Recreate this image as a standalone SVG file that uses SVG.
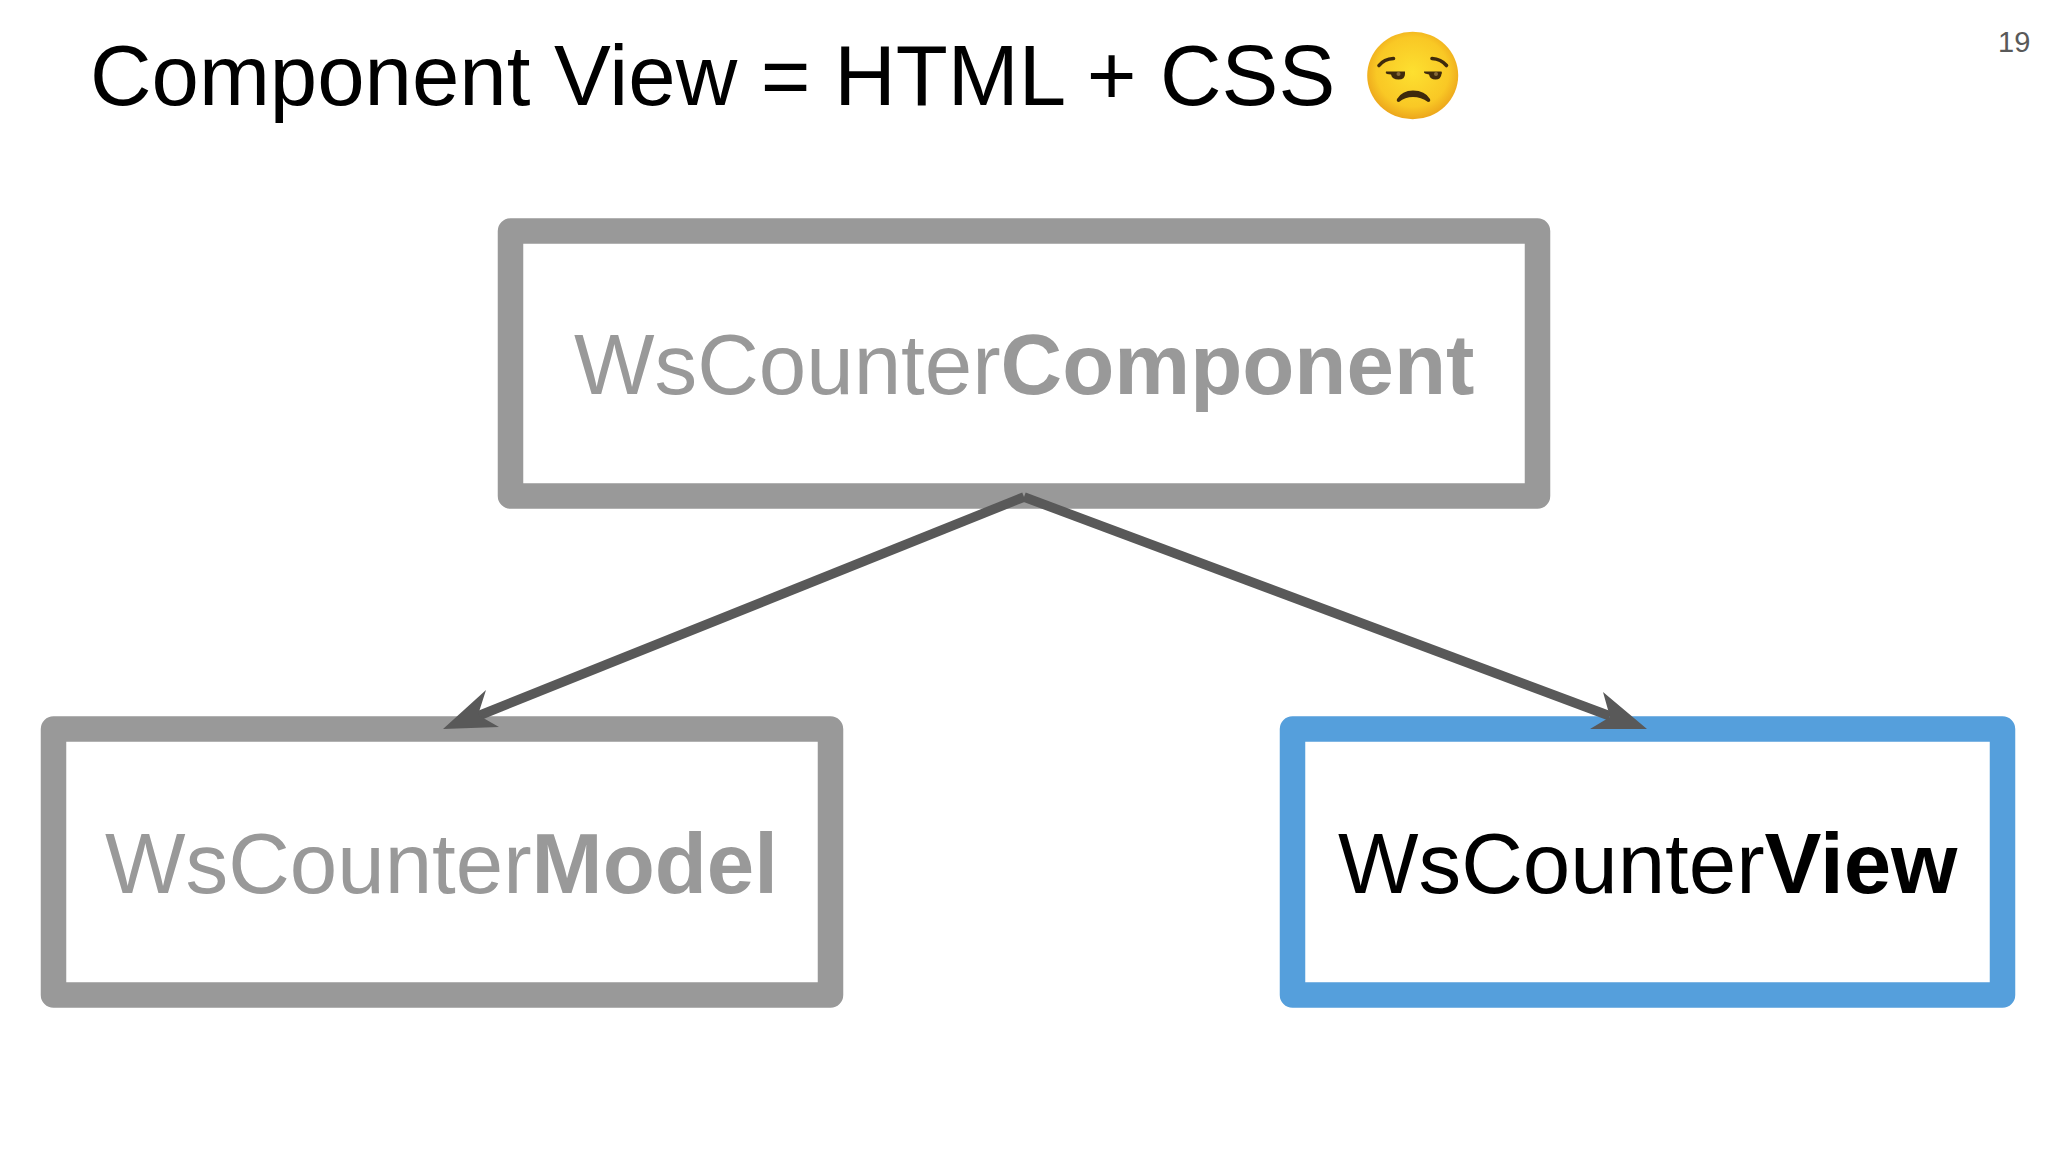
<svg xmlns="http://www.w3.org/2000/svg" width="2048" height="1152" viewBox="0 0 2048 1152">
<style>
text{font-family:"Liberation Sans",Arial,sans-serif}
.box{fill:#fff;stroke-width:25.5;stroke-linejoin:round}
.grey{stroke:#999999}
.blue{stroke:#559fdc}
.lbl{font-size:85.3px}
.b{font-weight:bold}
.conn{stroke:#595959;stroke-width:9.5;fill:none}
.head{fill:#595959}
.feat{fill:#3f2a0c}
.brow{fill:none;stroke:#3f2a0c;stroke-width:3.6;stroke-linecap:round}
.glint{fill:#85683a}
</style>
<defs>
<radialGradient id="face" cx="50%" cy="46%" r="53%">
<stop offset="0" stop-color="#fde030"/>
<stop offset="0.75" stop-color="#f9c825"/>
<stop offset="1" stop-color="#eda81c"/>
</radialGradient>
</defs>
<rect width="2048" height="1152" fill="#fff"/>
<text id="title" x="90" y="105" font-size="85.2" fill="#000">Component View = HTML + CSS</text>
<g id="emoji">
<ellipse cx="1412.7" cy="75.5" rx="45.5" ry="43.8" fill="url(#face)"/>
<path class="brow" d="M1379 65.5Q1384 59 1393.5 58.5"/>
<path class="brow" d="M1432 58.5Q1441 59 1446.5 65.5"/>
<path class="feat" d="M1386 71.5L1405 71.5L1405 74Q1405 79.5 1398.5 79.5Q1392 79.5 1391 74.5L1387 74Q1385 73 1386 71.5Z"/>
<path class="feat" d="M1424 71.5L1441.5 71.5Q1442.5 73 1441.5 74Q1441 79.5 1435.5 79.5Q1430 79.5 1429 74.5L1425 73.5Q1423.5 72.5 1424 71.5Z"/>
<circle class="glint" cx="1398.5" cy="74" r="2"/>
<circle class="glint" cx="1436" cy="74" r="2"/>
<path class="feat" d="M1397 99Q1402 90.5 1413 90.5Q1425 90.5 1430 99Q1431 102 1428 102Q1421 97 1413 97Q1405 97 1399 102Q1396 102 1397 99Z"/>
</g>
<text id="page-number" x="1998" y="52" font-size="29" fill="#595959">19</text>
<g id="node-component">
<rect class="box grey" x="510.5" y="231" width="1027" height="265"/>
<text class="lbl" x="574" y="394" fill="#999999">WsCounter<tspan class="b">Component</tspan></text>
</g>
<g id="node-model">
<rect class="box grey" x="53.5" y="729" width="777" height="266"/>
<text class="lbl" x="105" y="893" fill="#999999">WsCounter<tspan class="b">Model</tspan></text>
</g>
<g id="node-view">
<rect class="box blue" x="1292.5" y="729" width="710" height="266"/>
<text class="lbl" x="1338" y="893" fill="#000">WsCounter<tspan class="b">View</tspan></text>
</g>
<g id="connectors">
<path class="conn" d="M1024 497L478 716"/>
<path class="conn" d="M1024 497L1610 716"/>
<path class="head" d="M443 729L486 690L478 715L499 727Z"/>
<path class="head" d="M1647 729L1603 692L1610 717L1590 729Z"/>
</g>
</svg>
